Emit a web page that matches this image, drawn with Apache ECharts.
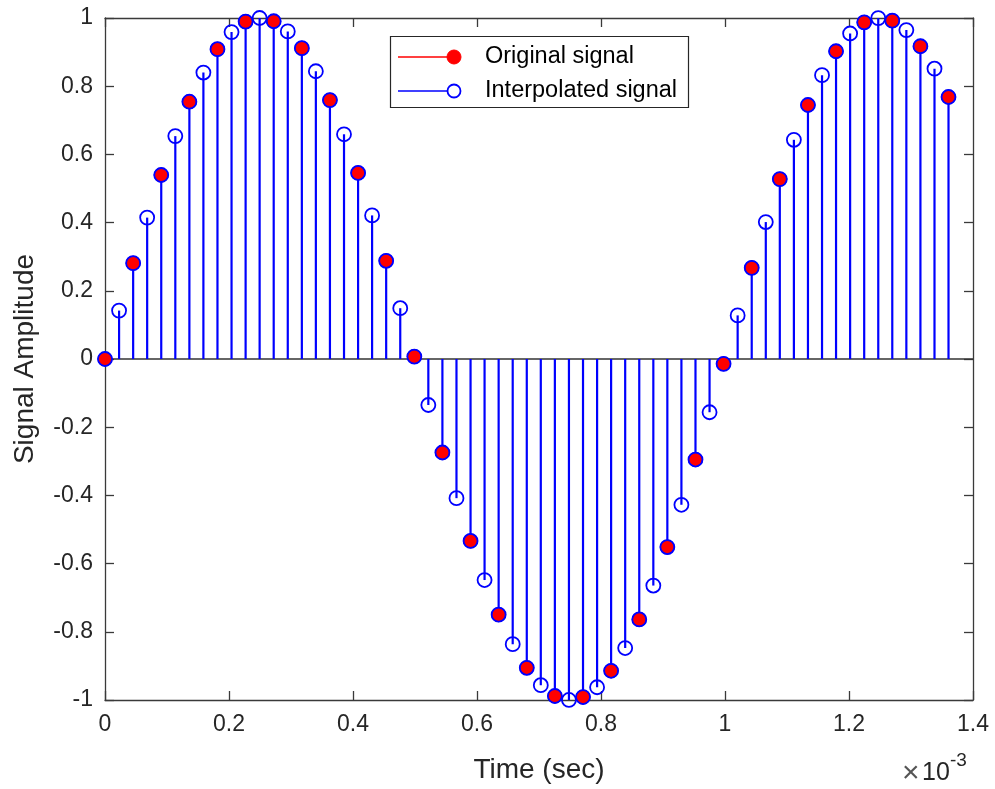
<!DOCTYPE html>
<html>
<head>
<meta charset="utf-8">
<script src="https://cdn.jsdelivr.net/npm/echarts@6/dist/echarts.min.js"></script>
<style>html,body{margin:0;padding:0;background:#fff}#c{width:995px;height:789px}</style>
</head>
<body>
<div id="c"></div>
<script>
// Time axis values in milliseconds (axis shows ×10^-3 sec)
const interpTime = [0,0.0227,0.0454,0.0680,0.0907,0.1134,0.1361,0.1587,0.1814,0.2041,
0.2268,0.2494,0.2721,0.2948,0.3175,0.3401,0.3628,0.3855,0.4082,0.4308,
0.4535,0.4762,0.4989,0.5215,0.5442,0.5669,0.5896,0.6122,0.6349,0.6576,
0.6803,0.7029,0.7256,0.7483,0.7710,0.7937,0.8163,0.8390,0.8617,0.8844,
0.9070,0.9297,0.9524,0.9751,0.9977,1.0204,1.0431,1.0658,1.0884,1.1111,
1.1338,1.1565,1.1791,1.2018,1.2245,1.2472,1.2698,1.2925,1.3152,1.3379,1.3605];
const interpValues = [0,0.1420,0.2811,0.4146,0.5396,0.6536,0.7545,0.8400,0.9085,0.9587,
0.9894,1.0000,0.9904,0.9607,0.9115,0.8438,0.7592,0.6590,0.5456,0.4211,
0.2880,0.1490,0.0071,-0.1349,-0.2742,-0.4081,-0.5336,-0.6482,-0.7498,-0.8362,
-0.9056,-0.9566,-0.9883,-0.9999,-0.9913,-0.9626,-0.9143,-0.8476,-0.7638,-0.6644,
-0.5515,-0.4275,-0.2948,-0.1561,-0.0142,0.1279,0.2674,0.4016,0.5275,0.6428,
0.7449,0.8323,0.9025,0.9545,0.9872,0.9998,0.9922,0.9645,0.9172,0.8513,0.7684];
const origTime = [0,0.0454,0.0907,0.1361,0.1814,0.2268,0.2721,0.3175,0.3628,0.4082,
0.4535,0.4989,0.5442,0.5896,0.6349,0.6803,0.7256,0.7710,0.8163,0.8617,
0.9070,0.9524,0.9977,1.0431,1.0884,1.1338,1.1791,1.2245,1.2698,1.3152,1.3605];
const origValues = [0,0.2811,0.5396,0.7545,0.9085,0.9894,0.9904,0.9115,0.7592,0.5456,
0.2880,0.0071,-0.2742,-0.5336,-0.7498,-0.9056,-0.9883,-0.9913,-0.9143,-0.7638,
-0.5515,-0.2948,-0.0142,0.2674,0.5275,0.7449,0.9025,0.9872,0.9922,0.9172,0.7684];
const xTicks = {min: 0, max: 1.4, step: 0.2};
const yTicks = {min: -1, max: 1, step: 0.2};
const seriesNames = ['Original signal', 'Interpolated signal'];
const xLabel = 'Time (sec)';
const yLabel = 'Signal Amplitude';

const FONT = '"Liberation Sans", Arial, Helvetica, sans-serif';
const AX = '#262626';
const BLUE = '#0000ff';
const RED = '#ff0000';
const fmt = v => String(+v.toFixed(1));

const interpData = interpTime.map((t, i) => [t, interpValues[i]]);
const origData = origTime.map((t, i) => [t, origValues[i]]);

function stemRender(color) {
  return function (params, api) {
    const x = api.value(0), y = api.value(1);
    const p0 = api.coord([x, 0]);
    const p1 = api.coord([x, y]);
    return {type: 'line', shape: {x1: p0[0], y1: p0[1], x2: p1[0], y2: p1[1]},
      style: {stroke: color, lineWidth: 2.2}};
  };
}

function axisCommon() {
  return {
    type: 'value',
    axisLine: {show: true, onZero: false, lineStyle: {color: '#3a3a3a', width: 1.3}},
    axisTick: {show: true, inside: true, length: 9, lineStyle: {color: '#3a3a3a', width: 1.3}},
    splitLine: {show: false}
  };
}

const chart = echarts.init(document.getElementById('c'));
chart.setOption({
  animation: false,
  backgroundColor: '#fff',
  grid: {left: 105, top: 18, width: 868, height: 682, containLabel: false},
  xAxis: [
    Object.assign(axisCommon(), {
      position: 'bottom', min: xTicks.min, max: xTicks.max, interval: xTicks.step,
      axisLabel: {formatter: fmt, color: AX, fontSize: 23, fontFamily: FONT, margin: 13},
      name: xLabel, nameLocation: 'middle', nameGap: 56,
      nameTextStyle: {color: AX, fontSize: 28, fontFamily: FONT, verticalAlign: 'top'}
    }),
    Object.assign(axisCommon(), {
      position: 'top', min: xTicks.min, max: xTicks.max, interval: xTicks.step,
      axisLabel: {show: false}
    })
  ],
  yAxis: [
    Object.assign(axisCommon(), {
      position: 'left', min: yTicks.min, max: yTicks.max, interval: yTicks.step,
      axisLabel: {formatter: fmt, color: AX, fontSize: 23, fontFamily: FONT, margin: 12},
      name: yLabel, nameLocation: 'middle', nameGap: 66, nameRotate: 90,
      nameTextStyle: {color: AX, fontSize: 28, fontFamily: FONT}
    }),
    Object.assign(axisCommon(), {
      position: 'right', min: yTicks.min, max: yTicks.max, interval: yTicks.step,
      axisLabel: {show: false}
    })
  ],
  series: [
    {
      name: seriesNames[1] + ' stems', type: 'custom', data: interpData,
      renderItem: stemRender(BLUE), encode: {x: 0, y: 1}, z: 3, silent: true,
      markLine: {
        silent: true, symbol: 'none', label: {show: false}, z: 2,
        lineStyle: {color: '#333333', width: 1.6, type: 'solid'},
        data: [{yAxis: 0}]
      }
    },
    {
      name: seriesNames[0], type: 'scatter', data: origData, z: 4,
      symbol: 'circle', symbolSize: 14,
      itemStyle: {color: RED, borderColor: BLUE, borderWidth: 1, opacity: 1}
    },
    {
      name: seriesNames[1], type: 'scatter', data: interpData, z: 5,
      symbol: 'circle', symbolSize: 14,
      itemStyle: {color: 'rgba(0,0,0,0)', borderColor: BLUE, borderWidth: 1.8, opacity: 1}
    }
  ],
  graphic: [
    {type: 'rect', shape: {x: 390.5, y: 36.5, width: 298, height: 71}, z: 10,
      style: {fill: '#fff', stroke: AX, lineWidth: 1.2}},
    {type: 'line', shape: {x1: 398, y1: 57, x2: 452, y2: 57}, z: 11,
      style: {stroke: RED, lineWidth: 1.5}},
    {type: 'circle', shape: {cx: 454, cy: 57, r: 7}, z: 11,
      style: {fill: RED, stroke: RED, lineWidth: 1}},
    {type: 'line', shape: {x1: 398, y1: 91, x2: 447, y2: 91}, z: 11,
      style: {stroke: BLUE, lineWidth: 1.5}},
    {type: 'circle', shape: {cx: 454, cy: 91, r: 6.5}, z: 11,
      style: {fill: 'none', stroke: BLUE, lineWidth: 1.8}},
    {type: 'text', x: 485, y: 57, z: 11,
      style: {text: seriesNames[0], font: '23.5px ' + FONT, fill: '#000', textVerticalAlign: 'middle'}},
    {type: 'text', x: 485, y: 91, z: 11,
      style: {text: seriesNames[1], font: '23.5px ' + FONT, fill: '#000', textVerticalAlign: 'middle'}},
    {type: 'text', x: 902, y: 774, z: 11,
      style: {text: '\u00d7', font: '30px ' + FONT, fill: '#555', textVerticalAlign: 'middle'}},
    {type: 'text', x: 922, y: 773, z: 11,
      style: {text: '10', font: '25px ' + FONT, fill: AX, textVerticalAlign: 'middle'}},
    {type: 'text', x: 950, y: 761, z: 11,
      style: {text: '-3', font: '19px ' + FONT, fill: AX, textVerticalAlign: 'middle'}}
  ]
});
</script>
</body>
</html>
